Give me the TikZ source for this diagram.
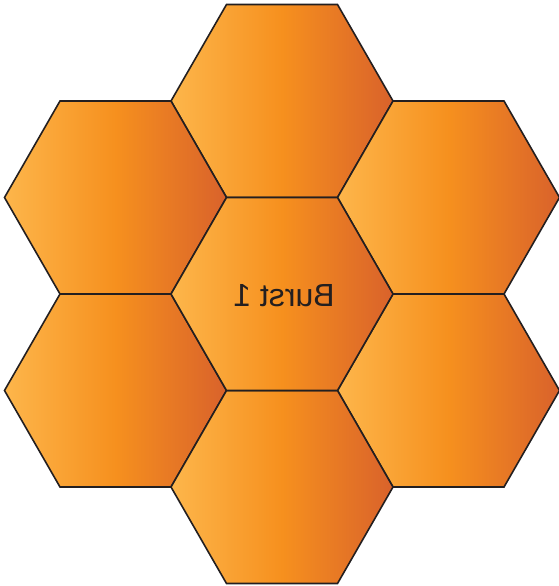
\documentclass[tikz,border=0pt]{standalone}
\usepackage{fontspec}
\setmainfont{Liberation Sans}
\definecolor{hexL}{HTML}{FDB64B}
\definecolor{hexM}{HTML}{F6901E}
\definecolor{hexR}{HTML}{D9622B}
\definecolor{hexline}{HTML}{231F20}
\begin{document}
\begin{tikzpicture}[x=1pt,y=-1pt,
  hexcell/.style={left color=hexL, right color=hexR, middle color=hexM, draw=hexline, line width=1.6pt, line join=miter},
  burst/.style={text=hexline, font=\fontsize{32}{36}\selectfont, xscale=-1, inner sep=0pt}]
\useasboundingbox (0,0) rectangle (558,586);
\foreach \cx/\cy in {282/101, 115.5/197.5, 448.5/197.5, 115.5/390.5, 448.5/390.5, 282/487, 282/294}{
  \path[hexcell] ({\cx-111},\cy) -- ({\cx-55.5},{\cy-96.5}) -- ({\cx+55.5},{\cy-96.5})
     -- ({\cx+111},\cy) -- ({\cx+55.5},{\cy+96.5}) -- ({\cx-55.5},{\cy+96.5}) -- cycle;
}
\node[burst] (label) at (284,296) {Burst 1};
\end{tikzpicture}
\end{document}
